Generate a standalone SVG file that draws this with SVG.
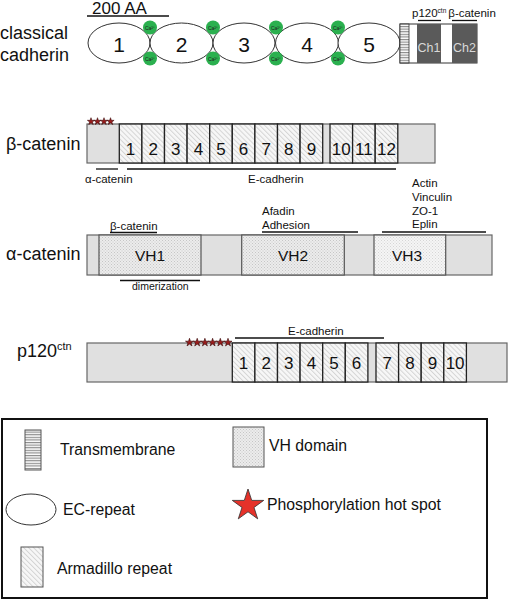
<svg xmlns="http://www.w3.org/2000/svg" width="509" height="600" viewBox="0 0 509 600">
<defs>
<style>
text{font-family:"Liberation Sans",Arial,sans-serif;fill:#111}
.lbl{font-size:18px}
.sm{font-size:11.5px}
.num{font-size:17px;text-anchor:middle}
.bar{fill:#e0e0e0;stroke:#666;stroke-width:1.2}
.arm{fill:url(#hatch);stroke:#222;stroke-width:1.3}
.vh{fill:url(#dots);stroke:#555;stroke-width:1.2}
.vh3{fill:url(#dots2);stroke:#555;stroke-width:1.2}
.ec{fill:#fff;stroke:#333;stroke-width:1}
.ca{fill:#2bb04f}
.catx{font-size:5px;fill:#222;text-anchor:middle}
.ln{stroke:#111;stroke-width:1.3;fill:none}
.st{fill:#9b1c1c;stroke:#3a0a0a;stroke-width:0.15}
.leg{font-size:15.8px}
</style>
<pattern id="hatch" width="3.5" height="3.5" patternUnits="userSpaceOnUse" patternTransform="rotate(-45)">
<rect width="3.5" height="3.5" fill="#f7f7f7"/>
<line x1="0.5" y1="0" x2="0.5" y2="3.5" stroke="#d4d4d4" stroke-width="1"/>
</pattern>
<pattern id="dots" width="3" height="3" patternUnits="userSpaceOnUse">
<rect width="3" height="3" fill="#ececec"/>
<rect width="1" height="1" fill="#c6c6c6"/>
<rect x="1.5" y="1.5" width="1" height="1" fill="#cacaca"/>
</pattern>
<pattern id="dots2" width="3" height="3" patternUnits="userSpaceOnUse">
<rect width="3" height="3" fill="#f5f5f5"/>
<rect width="1" height="1" fill="#d6d6d6"/>
<rect x="1.5" y="1.5" width="1" height="1" fill="#dadada"/>
</pattern>
<pattern id="tm" width="4" height="2.6" patternUnits="userSpaceOnUse">
<rect width="4" height="2.6" fill="#fafafa"/>
<rect width="4" height="1.1" fill="#8a8a8a"/>
</pattern>
<path id="star" d="M0,-1 L0.2245,-0.309 L0.951,-0.309 L0.363,0.118 L0.588,0.809 L0,0.382 L-0.588,0.809 L-0.363,0.118 L-0.951,-0.309 L-0.2245,-0.309Z"/>
</defs>
<rect width="509" height="600" fill="#fff"/>

<!-- classical cadherin -->
<g id="cadherin">
<text class="lbl" x="0" y="39">classical</text>
<text class="lbl" x="0" y="61">cadherin</text>
<text x="92" y="14" font-size="17">200 AA</text>
<g class="ecs">
<ellipse class="ec" cx="119" cy="43" rx="31" ry="20"/>
<ellipse class="ec" cx="181.5" cy="43" rx="31.5" ry="20"/>
<ellipse class="ec" cx="244" cy="43" rx="31" ry="20"/>
<ellipse class="ec" cx="307" cy="43" rx="31.5" ry="20"/>
<ellipse class="ec" cx="369" cy="43" rx="31" ry="20"/>
</g>
<text x="119" y="52" font-size="21" text-anchor="middle">1</text>
<text x="181.5" y="52" font-size="21" text-anchor="middle">2</text>
<text x="244" y="52" font-size="21" text-anchor="middle">3</text>
<text x="307" y="52" font-size="21" text-anchor="middle">4</text>
<text x="369" y="52" font-size="21" text-anchor="middle">5</text>
<g>
<circle class="ca" cx="150" cy="27.5" r="7"/><circle class="ca" cx="150" cy="58.5" r="7"/>
<circle class="ca" cx="213" cy="27.5" r="7"/><circle class="ca" cx="213" cy="58.5" r="7"/>
<circle class="ca" cx="276" cy="27.5" r="7"/><circle class="ca" cx="276" cy="58.5" r="7"/>
<circle class="ca" cx="338" cy="27.5" r="7"/><circle class="ca" cx="338" cy="58.5" r="7"/>
<text class="catx" x="150" y="29.5">Ca²⁺</text><text class="catx" x="150" y="60.5">Ca²⁺</text>
<text class="catx" x="213" y="29.5">Ca²⁺</text><text class="catx" x="213" y="60.5">Ca²⁺</text>
<text class="catx" x="276" y="29.5">Ca²⁺</text><text class="catx" x="276" y="60.5">Ca²⁺</text>
<text class="catx" x="338" y="29.5">Ca²⁺</text><text class="catx" x="338" y="60.5">Ca²⁺</text>
</g>
<rect x="400" y="24" width="77" height="39" fill="#fff" stroke="#333" stroke-width="1"/>
<rect x="400" y="24" width="9" height="39" fill="url(#tm)" stroke="#333" stroke-width="0.8"/>
<rect x="417" y="24" width="24" height="39" fill="#5a5a5a"/>
<rect x="452" y="24" width="25" height="39" fill="#5a5a5a"/>
<text x="429" y="52" font-size="12.5" text-anchor="middle" style="fill:#d8d8d8">Ch1</text>
<text x="464.5" y="52" font-size="12.5" text-anchor="middle" style="fill:#d8d8d8">Ch2</text>
<text class="sm" x="412" y="17">p120<tspan font-size="6.5" dy="-4">ctn</tspan><tspan dy="4" dx="2">β-catenin</tspan></text>
</g>

<!-- beta-catenin -->
<g id="beta-catenin">
<text class="lbl" x="6" y="150">β-catenin</text>
<rect class="bar" x="87" y="124" width="348" height="39"/>
<rect class="arm" x="119.3" y="124" width="22.6" height="39"/>
<rect class="arm" x="141.9" y="124" width="22.6" height="39"/>
<rect class="arm" x="164.5" y="124" width="22.6" height="39"/>
<rect class="arm" x="187.1" y="124" width="22.6" height="39"/>
<rect class="arm" x="209.7" y="124" width="22.6" height="39"/>
<rect class="arm" x="232.3" y="124" width="22.6" height="39"/>
<rect class="arm" x="254.9" y="124" width="22.6" height="39"/>
<rect class="arm" x="277.5" y="124" width="22.6" height="39"/>
<rect class="arm" x="300.1" y="124" width="22.6" height="39"/>
<rect class="arm" x="330" y="124" width="22.6" height="39"/>
<rect class="arm" x="352.6" y="124" width="22.6" height="39"/>
<rect class="arm" x="375.2" y="124" width="22.6" height="39"/>
<text class="num" x="130.6" y="155">1</text>
<text class="num" x="153.2" y="155">2</text>
<text class="num" x="175.8" y="155">3</text>
<text class="num" x="198.4" y="155">4</text>
<text class="num" x="221" y="155">5</text>
<text class="num" x="243.6" y="155">6</text>
<text class="num" x="266.2" y="155">7</text>
<text class="num" x="288.8" y="155">8</text>
<text class="num" x="311.4" y="155">9</text>
<text class="num" x="341.3" y="155">10</text>
<text class="num" x="363.9" y="155">11</text>
<text class="num" x="386.5" y="155">12</text>
<g class="st">
<use href="#star" transform="translate(91,121.5) scale(3.8)"/>
<use href="#star" transform="translate(97.5,121.5) scale(3.8)"/>
<use href="#star" transform="translate(104,121.5) scale(3.8)"/>
<use href="#star" transform="translate(110.5,121.5) scale(3.8)"/>
</g>
<text class="sm" x="85" y="183">α-catenin</text>
<text class="sm" x="248" y="183">E-cadherin</text>
</g>

<!-- alpha-catenin -->
<g id="alpha-catenin">
<text class="lbl" x="6" y="260">α-catenin</text>
<rect class="bar" x="87" y="235" width="405" height="40"/>
<rect class="vh" x="99" y="235" width="102" height="40"/>
<rect class="vh" x="241.7" y="235" width="102.6" height="40"/>
<rect class="vh3" x="374" y="235" width="71.7" height="40"/>
<text x="150" y="261" font-size="15.5" text-anchor="middle">VH1</text>
<text x="293" y="261" font-size="15.5" text-anchor="middle">VH2</text>
<text x="407" y="261" font-size="15.5" text-anchor="middle">VH3</text>
<text class="sm" x="110" y="230">β-catenin</text>
<text x="132" y="290" font-size="10.5">dimerization</text>
<text class="sm" x="262" y="215">Afadin</text>
<text class="sm" x="262" y="229">Adhesion</text>
<text class="sm" x="412" y="187">Actin</text>
<text class="sm" x="412" y="201">Vinculin</text>
<text class="sm" x="412" y="215">ZO-1</text>
<text class="sm" x="412" y="228">Eplin</text>
</g>

<!-- p120 catenin -->
<g id="p120-catenin">
<text class="lbl" x="17" y="357">p120<tspan font-size="11" dy="-7">ctn</tspan></text>
<rect class="bar" x="87" y="343" width="420" height="39"/>
<rect class="arm" x="232.3" y="343" width="22.6" height="39"/>
<rect class="arm" x="254.9" y="343" width="22.6" height="39"/>
<rect class="arm" x="277.5" y="343" width="22.6" height="39"/>
<rect class="arm" x="300.1" y="343" width="22.6" height="39"/>
<rect class="arm" x="322.7" y="343" width="22.6" height="39"/>
<rect class="arm" x="345.3" y="343" width="22.6" height="39"/>
<rect class="arm" x="376" y="343" width="22.6" height="39"/>
<rect class="arm" x="398.6" y="343" width="22.6" height="39"/>
<rect class="arm" x="421.2" y="343" width="22.6" height="39"/>
<rect class="arm" x="443.8" y="343" width="22.6" height="39"/>
<text class="num" x="243.6" y="369">1</text>
<text class="num" x="266.2" y="369">2</text>
<text class="num" x="288.8" y="369">3</text>
<text class="num" x="311.4" y="369">4</text>
<text class="num" x="334" y="369">5</text>
<text class="num" x="356.6" y="369">6</text>
<text class="num" x="387.3" y="369">7</text>
<text class="num" x="409.9" y="369">8</text>
<text class="num" x="432.5" y="369">9</text>
<text class="num" x="455.1" y="369">10</text>
<g class="st">
<use href="#star" transform="translate(189.5,342.5) scale(4.2)"/>
<use href="#star" transform="translate(197.2,342.5) scale(4.2)"/>
<use href="#star" transform="translate(204.9,342.5) scale(4.2)"/>
<use href="#star" transform="translate(212.6,342.5) scale(4.2)"/>
<use href="#star" transform="translate(220.3,342.5) scale(4.2)"/>
<use href="#star" transform="translate(228,342.5) scale(4.2)"/>
</g>
<text class="sm" x="288" y="335">E-cadherin</text>
</g>

<!-- binding-region lines -->
<g id="connectors" class="ln">
<line x1="87" y1="16" x2="169" y2="16"/>
<line x1="418" y1="20.5" x2="441" y2="20.5"/>
<line x1="452" y1="20.5" x2="477" y2="20.5"/>
<line x1="96" y1="169" x2="118" y2="169"/>
<line x1="127" y1="169" x2="396" y2="169"/>
<line x1="110" y1="232.5" x2="157" y2="232.5"/>
<line x1="120" y1="280.5" x2="200" y2="280.5"/>
<line x1="262" y1="232" x2="358" y2="232"/>
<line x1="382" y1="232" x2="486" y2="232"/>
<line x1="235" y1="338" x2="384" y2="338"/>
</g>

<!-- legend -->
<g id="legend">
<rect x="2" y="419" width="485" height="179" fill="none" stroke="#111" stroke-width="2"/>
<g id="legend-transmembrane">
<rect x="25" y="430" width="16" height="40" fill="url(#tm)" stroke="#555" stroke-width="1"/>
<text class="leg" x="60" y="455">Transmembrane</text>
</g>
<g id="legend-ec">
<ellipse class="ec" cx="31" cy="509.5" rx="25" ry="15.5"/>
<text class="leg" x="63" y="515">EC-repeat</text>
</g>
<g id="legend-arm">
<rect class="arm" x="21" y="547" width="22" height="40" style="stroke:#555;stroke-width:1"/>
<text class="leg" x="57" y="574">Armadillo repeat</text>
</g>
<g id="legend-vh">
<rect x="233" y="427" width="31" height="40" fill="url(#dots)" stroke="#555" stroke-width="1"/>
<text class="leg" x="269" y="451">VH domain</text>
</g>
<g id="legend-star">
<use href="#star" transform="translate(248,505.5) scale(16.5)" fill="#e5322a" stroke="#333" stroke-width="0.05"/>
<text class="leg" x="267" y="510">Phosphorylation hot spot</text>
</g>
</g>
</svg>
